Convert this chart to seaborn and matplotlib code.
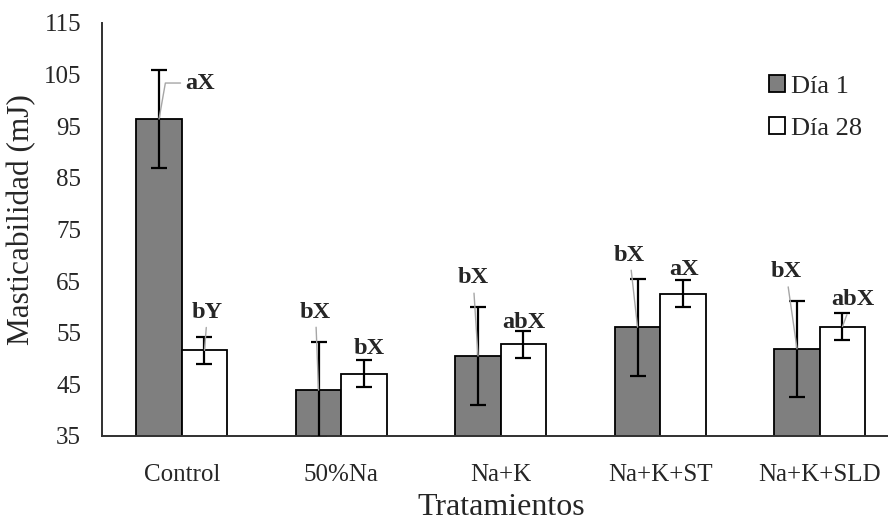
import matplotlib
matplotlib.use("Agg")
import matplotlib.pyplot as plt
import numpy as np
import pandas as pd
import seaborn as sns

# ── Data ──────────────────────────────────────────────────────────────────────
treatments = ["Control", "50%Na", "Na+K", "Na+K+ST", "Na+K+SLD"]
days = ["Día 1", "Día 28"]
day1_mean = [96.4, 43.9, 50.5, 56.1, 51.9]
day28_mean = [51.6, 47.1, 52.8, 62.6, 56.2]
day1_err = [9.4, 9.3, 9.4, 9.4, 9.3]
day28_err = [2.6, 2.6, 2.6, 2.6, 2.6]
day1_labels = ["aX", "bX", "bX", "bX", "bX"]
day28_labels = ["bY", "bX", "abX", "aX", "abX"]

# label placement (pixel offsets from bar top) and leader lines
day1_offsets = [(41, 36), (-3, 78), (-5, 78), (-8, 72), (-11, 77)]
day28_offsets = [(3, 38), (5, 25), (0, 22), (1, 24), (10, 27)]
day1_leader = ["angle,angleA=0,angleB=80,rad=0", "arc3", "arc3", "arc3", "arc3"]
day28_leader = ["arc3", None, None, None, "arc3"]

df = pd.DataFrame({
    "Tratamiento": treatments * 2,
    "Día": [days[0]] * len(treatments) + [days[1]] * len(treatments),
    "valor": day1_mean + day28_mean,
})

# ── Plot ──────────────────────────────────────────────────────────────────────
sns.set_style("white")
plt.rcParams["font.family"] = ["Liberation Serif", "DejaVu Serif"]

fig = plt.figure(figsize=(8.88, 5.25), dpi=100)
ax = fig.add_axes([102 / 888, 89 / 525, 797.5 / 888, 413 / 525])

sns.barplot(
    data=df, x="Tratamiento", y="valor", hue="Día",
    palette=["#7f7f7f", "#ffffff"], edgecolor="black", linewidth=1.3,
    width=0.57, errorbar=None, ax=ax, legend=True,
)

means = [day1_mean, day28_mean]
errs = [day1_err, day28_err]
labels = [day1_labels, day28_labels]
offsets = [day1_offsets, day28_offsets]
leaders = [day1_leader, day28_leader]

for k, cont in enumerate(ax.containers[:2]):
    xs = [p.get_x() + p.get_width() / 2 for p in cont.patches]
    ax.errorbar(xs, means[k], yerr=errs[k], fmt="none", ecolor="black",
                elinewidth=1.6, capsize=6, capthick=1.6, zorder=4)
    for x, m, lab, off, lead in zip(xs, means[k], labels[k], offsets[k], leaders[k]):
        ax.annotate(
            lab, xy=(x, m), xytext=off, textcoords="offset pixels",
            ha="center", va="center", fontsize=17.5, fontweight="bold",
            arrowprops=dict(arrowstyle="-", color="#a6a6a6", lw=1.0,
                            connectionstyle=lead, shrinkA=1, shrinkB=0)
            if lead else None,
            zorder=5,
        )

ax.set_ylim(35, 115)
ax.set_yticks(np.arange(35, 116, 10))
ax.set_xlim(-0.5, len(treatments) - 0.5)
ax.set_xlabel("Tratamientos", fontsize=23, labelpad=5)
ax.set_ylabel("Masticabilidad (mJ)", fontsize=22.5)
ax.yaxis.set_label_coords(-0.083, 0.525)
ax.tick_params(axis="y", length=0, pad=15, labelsize=18)
ax.tick_params(axis="x", length=0, pad=20, labelsize=18)

for side in ["top", "right"]:
    ax.spines[side].set_visible(False)
for side in ["left", "bottom"]:
    ax.spines[side].set_color("#303030")
    ax.spines[side].set_linewidth(1.4)

handles, _ = ax.get_legend_handles_labels()
ax.legend(
    handles, days, loc="upper left", bbox_to_anchor=(769 / 888, 1 - 75 / 525),
    bbox_transform=fig.transFigure, frameon=False, fontsize=19,
    handlelength=0.6, handleheight=0.6, handletextpad=0.25,
    labelspacing=0.75, borderpad=0, borderaxespad=0,
)

fig.savefig("out.png", dpi=100)
